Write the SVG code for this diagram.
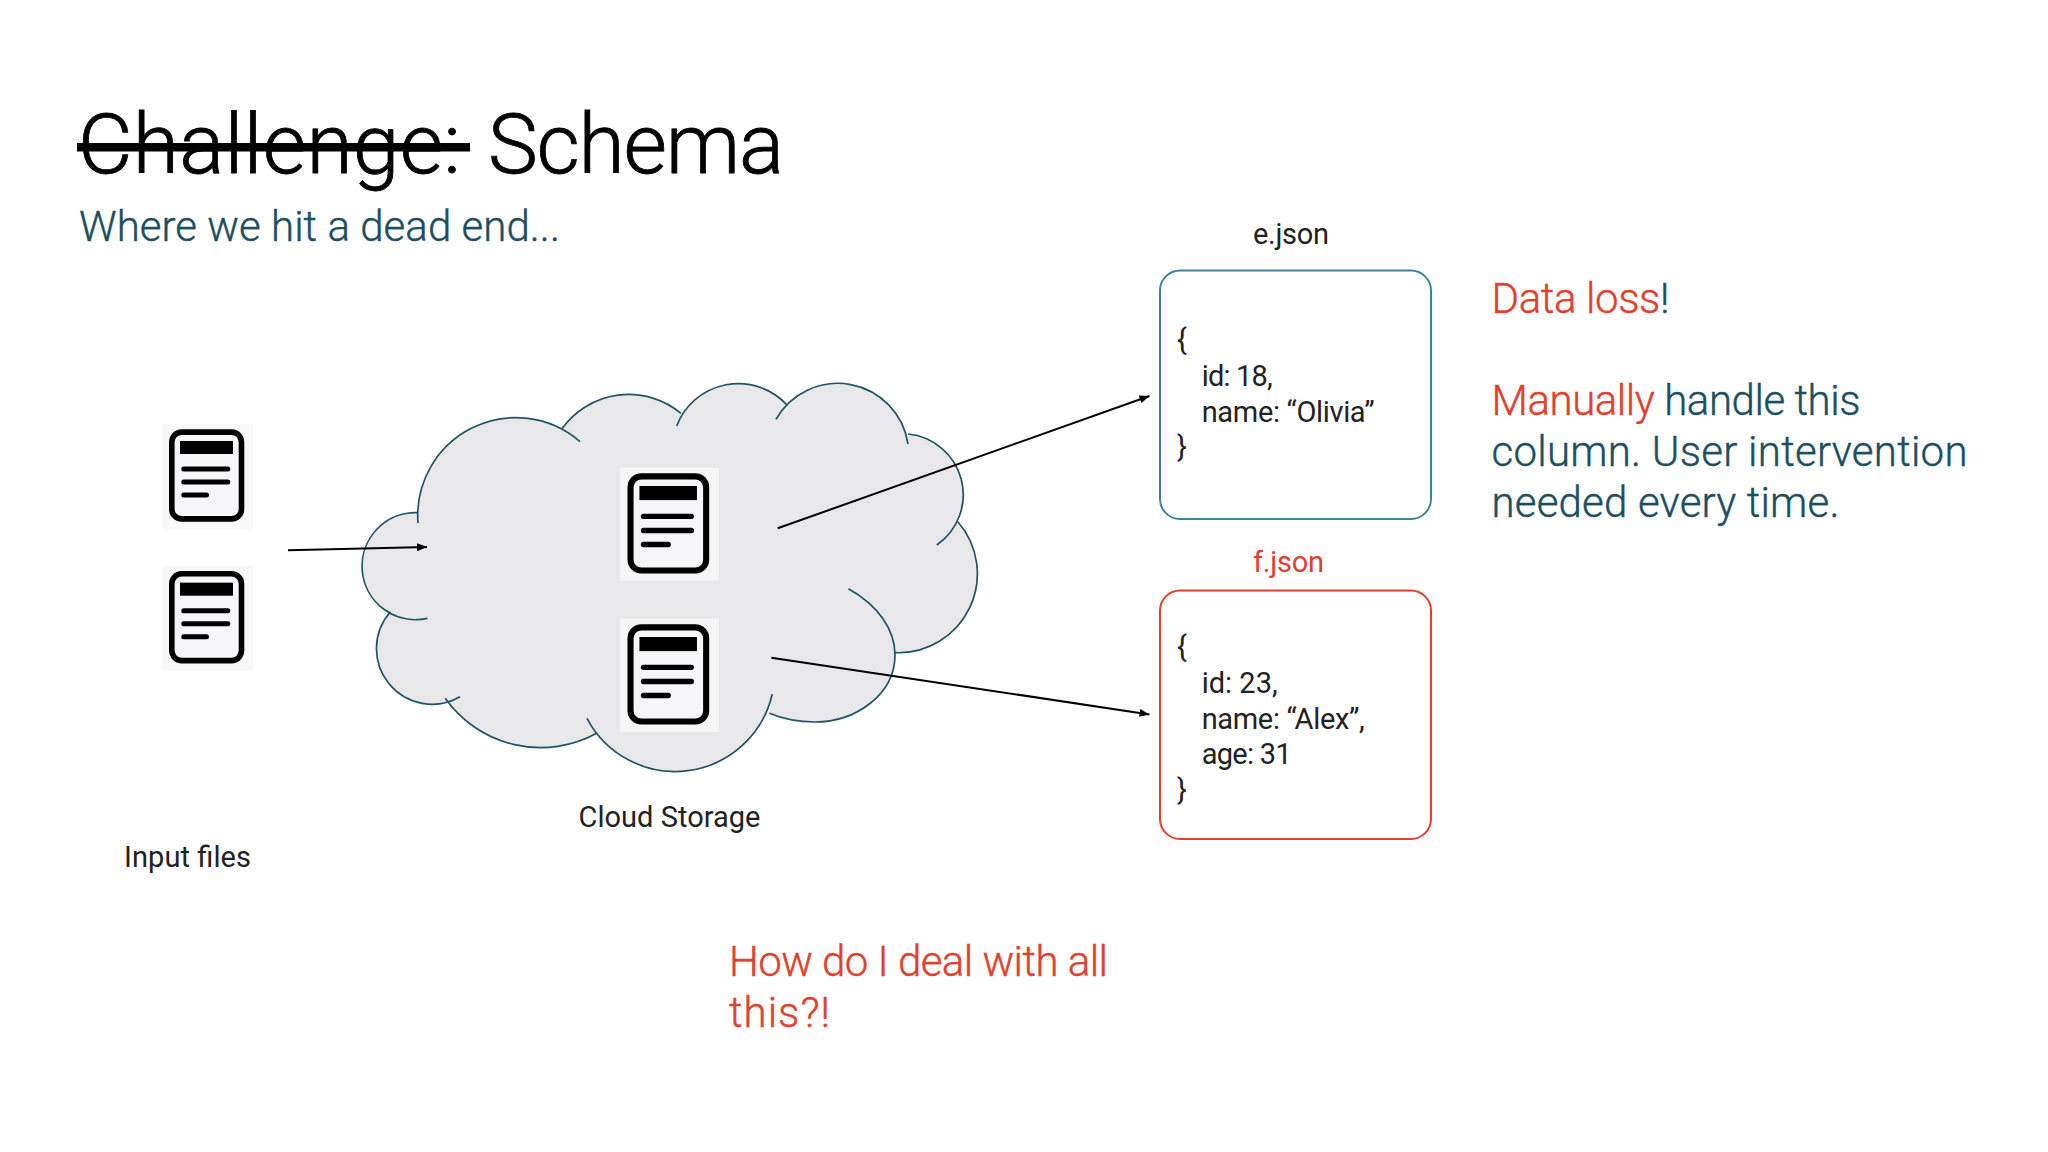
<svg xmlns="http://www.w3.org/2000/svg" width="2048" height="1152" viewBox="0 0 2048 1152">
<style>
text{font-family:"Roboto","Liberation Sans",sans-serif;font-weight:400}
.lt{font-weight:300;stroke-width:0.4}
.teal{fill:#1c4f5f;stroke:#1c4f5f;stroke-width:0.4}.red{fill:#e0402c;stroke:#e0402c;stroke-width:0.4}.blk{fill:#222}
.m{font-size:29px;stroke-width:0}
.l{font-size:42px}
.conn{stroke:#000;stroke-width:2;fill:none;marker-end:url(#tip)}
.bar{stroke:#000;stroke-width:5;stroke-linecap:round}
</style>
<defs>
<marker id="tip" markerUnits="userSpaceOnUse" markerWidth="10" markerHeight="8" refX="10" refY="4" orient="auto"><path d="M0,0L10,4L0,8z" fill="#000"/></marker>
<g id="doc">
<rect x="2.8" y="2.8" width="69.7" height="86.8" rx="10" fill="#f6f6f8" stroke="#000" stroke-width="5.6"/>
<rect x="11" y="11.7" width="53" height="13" fill="#000"/>
<line class="bar" x1="14.8" y1="39.7" x2="58.8" y2="39.7"/>
<line class="bar" x1="14.8" y1="52.7" x2="58.8" y2="52.7"/>
<line class="bar" x1="14.8" y1="65.7" x2="37.5" y2="65.7"/>
</g>
</defs>
<rect width="2048" height="1152" fill="#fff"/>
<g id="title">
<text x="78" y="172.7" font-size="84" fill="#000" style="font-weight:300;stroke:#000;stroke-width:0.8" textLength="383">Challenge:</text>
<text x="488" y="172.7" font-size="84" fill="#000" style="font-weight:300;stroke:#000;stroke-width:0.8" textLength="296">Schema</text>
<rect x="77" y="143" width="393" height="8.5" fill="#000"/>
<text class="teal lt" x="79" y="241" font-size="42" textLength="481">Where we hit a dead end...</text>
</g>
<g id="cloud">
<path fill="#e8e8ea" d="M418,523A98,98 0 0 1 580,441.7L561.8,429A82,82 0 0 1 681,413.3L676.7,426A66,66 0 0 1 787,405L776,419.3A71,71 0 0 1 908,444L908,434A61,61 0 0 1 936.8,545L957.8,521.7A79,79 0 0 1 895.6,652.7L848.4,588.7C878,605 895,630 895,655C895,695 855,722 815,722C798,722 783,719 769.3,713.3L772.2,694.3A99.6,99.6 0 0 1 587,718.3L596.7,733.3A117,117 0 0 1 445.2,698.3L460,696.7A55.6,55.6 0 0 1 390.5,611.7L427.5,618.3A53.5,53.5 0 1 1 417.9,512.7z"/>
<path fill="none" stroke="#1f5563" stroke-width="1.7" d="M418,523A98,98 0 0 1 580,441.7M561.8,429A82,82 0 0 1 681,413.3M676.7,426A66,66 0 0 1 787,405M776,419.3A71,71 0 0 1 908,444M908,434A61,61 0 0 1 936.8,545M957.8,521.7A79,79 0 0 1 895.6,652.7M848.4,588.7C878,605 895,630 895,655C895,695 855,722 815,722C798,722 783,719 769.3,713.3M772.2,694.3A99.6,99.6 0 0 1 587,718.3M596.7,733.3A117,117 0 0 1 445.2,698.3M460,696.7A55.6,55.6 0 0 1 390.5,611.7M427.5,618.3A53.5,53.5 0 1 1 417.9,512.7"/>
<text class="blk m" x="578.5" y="827" textLength="182">Cloud Storage</text>
</g>
<g id="input-file-1"><rect x="162.3" y="424" width="91" height="105" fill="#f8f8f8"/><use href="#doc" x="169" y="429.3"/></g>
<g id="input-file-2"><rect x="162.3" y="565.7" width="91" height="105" fill="#f8f8f8"/><use href="#doc" x="169" y="571"/></g>
<g id="input-label"><text class="blk m" x="124" y="867" textLength="127">Input files</text></g>
<g id="stored-file-1"><rect x="620" y="467.7" width="99" height="113" fill="#f5f5f6"/><use href="#doc" transform="translate(627.5,473.3) scale(1.085)"/></g>
<g id="stored-file-2"><rect x="620" y="618.7" width="99" height="113" fill="#f5f5f6"/><use href="#doc" transform="translate(627.5,624.3) scale(1.085)"/></g>
<g id="connectors">
<line class="conn" x1="288" y1="550.3" x2="427" y2="547"/>
<line class="conn" x1="777.7" y1="528.3" x2="1149.5" y2="396"/>
<line class="conn" x1="771.4" y1="657.7" x2="1149.5" y2="714.4"/>
</g>
<g id="e-json">
<text class="blk m" x="1253" y="244" textLength="76">e.json</text>
<rect x="1160" y="270.5" width="271" height="248.5" rx="20" fill="#fff" stroke="#3f8197" stroke-width="2"/>
<text class="blk m" x="1177" y="350">{</text>
<text class="blk m" x="1201.7" y="386.2" textLength="71">id: 18,</text>
<text class="blk m" x="1201.7" y="421.8" textLength="173">name: “Olivia”</text>
<text class="blk m" x="1177" y="457">}</text>
</g>
<g id="f-json">
<text class="red m" x="1253" y="572" textLength="71" style="stroke-width:0">f.json</text>
<rect x="1160" y="590.5" width="271" height="248.5" rx="20" fill="#fff" stroke="#e0402c" stroke-width="2"/>
<text class="blk m" x="1177" y="657">{</text>
<text class="blk m" x="1201.7" y="693" textLength="76">id: 23,</text>
<text class="blk m" x="1201.7" y="728.5" textLength="163">name: “Alex”,</text>
<text class="blk m" x="1201.7" y="764" textLength="90">age: 31</text>
<text class="blk m" x="1177" y="799.5">}</text>
</g>
<g id="notes">
<text class="l lt" x="1491.5" y="313" textLength="178"><tspan class="red">Data loss</tspan><tspan class="teal">!</tspan></text>
<text class="l lt" x="1491.5" y="415" textLength="369"><tspan class="red">Manually</tspan><tspan class="teal"> handle this</tspan></text>
<text class="l teal lt" x="1491.5" y="466" textLength="476">column. User intervention</text>
<text class="l teal lt" x="1491.5" y="517" textLength="348">needed every time.</text>
<text class="l red lt" x="729" y="975.6" textLength="379">How do I deal with all</text>
<text class="l red lt" x="729" y="1026.6" textLength="101">this?!</text>
</g>
</svg>
